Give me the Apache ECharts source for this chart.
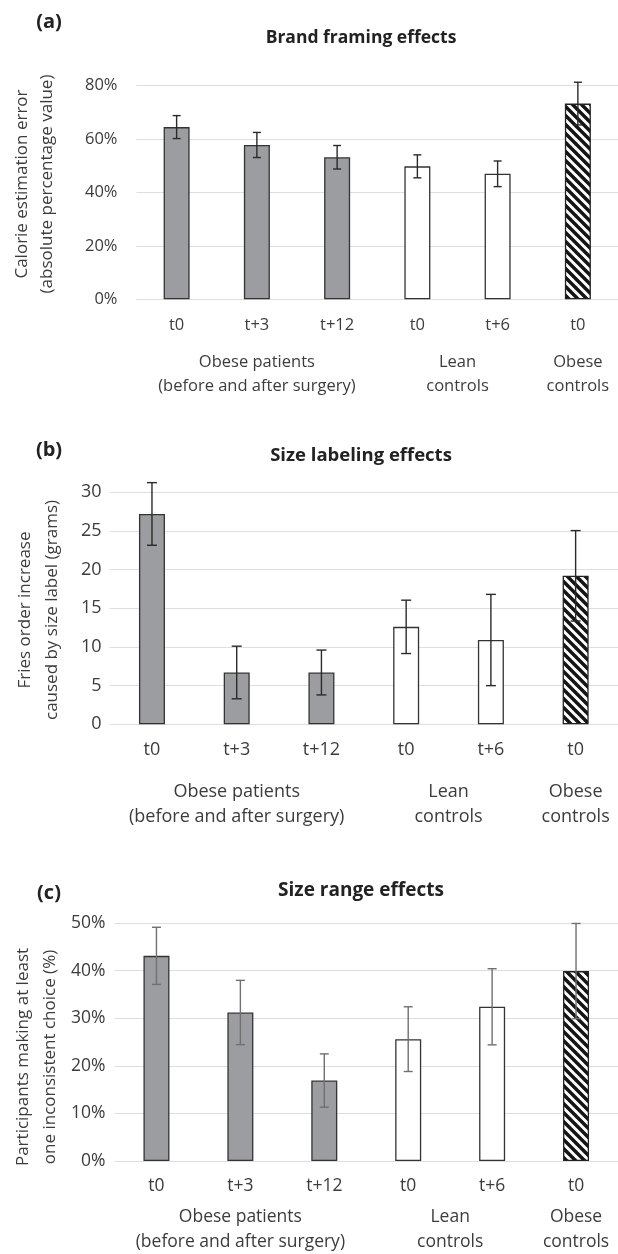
<!DOCTYPE html>
<html><head><meta charset="utf-8">
<script src="https://cdn.jsdelivr.net/npm/echarts@6/dist/echarts.min.js"></script>
<style>html,body{margin:0;padding:0;background:#fff}#c{width:618px;height:1254px}</style>
</head><body><div id="c"></div>
<script>
const categories = ['t0', 't+3', 't+12', 't0', 't+6', 't0'];
const barKinds = ['patient', 'patient', 'patient', 'lean', 'lean', 'obese'];
const groupLabels = ['Obese patients\n(before and after surgery)', 'Lean\ncontrols', 'Obese\ncontrols'];
const panelLetters = ['(a)', '(b)', '(c)'];
const panelTitles = ['Brand framing effects', 'Size labeling effects', 'Size range effects'];
const axisNames = [
  'Calorie estimation error\n(absolute percentage value)',
  'Fries order increase\ncaused by size label (grams)',
  'Participants making at least\none inconsistent choice (%)'
];
const brandValues = [64.5, 57.8, 53.2, 49.8, 47.0, 73.3];
const brandErrors = [4.3, 4.7, 4.4, 4.3, 4.8, 8.0];
const labelValues = [27.2, 6.7, 6.7, 12.6, 10.9, 19.2];
const labelErrors = [4.05, 3.4, 2.9, 3.45, 5.9, 5.85];
const rangeValues = [43.1, 31.2, 16.9, 25.6, 32.4, 39.9];
const rangeErrors = [6.0, 6.75, 5.6, 6.8, 8.0, 10.0];
const brandTicks = [0, 20, 40, 60, 80];
const labelTicks = [0, 5, 10, 15, 20, 25, 30];
const rangeTicks = [0, 10, 20, 30, 40, 50];

const FONT = '"Open Sans"';
const TXT = '#3c3c3c';

function hatch() {
  const s = 9, c = document.createElement('canvas');
  c.width = c.height = s;
  const g = c.getContext('2d');
  g.fillStyle = '#fff'; g.fillRect(0, 0, s, s);
  g.strokeStyle = '#151515'; g.lineWidth = 3.5; g.lineCap = 'square';
  g.beginPath();
  for (const o of [-s, 0, s]) { g.moveTo(o, 0); g.lineTo(o + s, s); }
  g.stroke();
  return c;
}
const hatchImg = hatch();
const kindStyle = {
  patient: { color: '#9c9da1', borderColor: '#333', borderWidth: 1.3 },
  lean: { color: '#ffffff', borderColor: '#333', borderWidth: 1.3 },
  obese: { color: { image: hatchImg, repeat: 'repeat' }, borderColor: '#222', borderWidth: 1.3 }
};

const panels = [
  { values: brandValues, errors: brandErrors, ticks: brandTicks, pct: true,
    grid: { left: 136.5, top: 85.7, width: 487, height: 213.6 },
    font: 16.5, nameFont: 17, titleFont: 17.5, errColor: '#2a2a2a', cap: 8, labelMargin: 17, yMargin: 19,
    letterY: 22, titleY: 37, nameX: 34.5, nameY: 184, nameLH: 25.3, groupY: 362.7, groupLH: 24 },
  { values: labelValues, errors: labelErrors, ticks: labelTicks, pct: false,
    grid: { left: 109.6, top: 492.3, width: 516.7, height: 232 },
    font: 18, nameFont: 17, titleFont: 18.5, errColor: '#2a2a2a', cap: 10, labelMargin: 17, yMargin: 8,
    letterY: 450, titleY: 455, nameX: 39, nameY: 610, nameLH: 26.7, groupY: 791.7, groupLH: 25 },
  { values: rangeValues, errors: rangeErrors, ticks: rangeTicks, pct: true,
    grid: { left: 114.5, top: 923, width: 509.4, height: 238 },
    font: 17.5, nameFont: 17, titleFont: 19, errColor: '#707070', cap: 9, labelMargin: 16.5, yMargin: 9,
    letterY: 893, titleY: 890, nameX: 37, nameY: 1057, nameLH: 27, groupY: 1216.7, groupLH: 25 }
];

const chart = echarts.init(document.getElementById('c'), null, { renderer: 'canvas' });
const option = { animation: false, backgroundColor: '#fff', grid: [], xAxis: [], yAxis: [], series: [] };
panels.forEach((p, k) => {
  option.grid.push(Object.assign({ containLabel: false }, p.grid));
  option.xAxis.push({
    type: 'category', gridIndex: k, data: categories,
    axisLine: { show: false }, axisTick: { show: false },
    axisLabel: { color: TXT, fontFamily: FONT, fontSize: p.font, margin: p.labelMargin }
  });
  const t = p.ticks;
  option.yAxis.push({
    type: 'value', gridIndex: k, min: t[0], max: t[t.length - 1], interval: t[1] - t[0],
    axisLine: { show: false }, axisTick: { show: false },
    splitLine: { lineStyle: { color: '#dedede', width: 1.2 } },
    axisLabel: { color: TXT, fontFamily: FONT, fontSize: p.font, margin: p.yMargin,
      formatter: p.pct ? '{value}%' : '{value}' }
  });
  option.series.push({
    type: 'bar', xAxisIndex: k, yAxisIndex: k, barWidth: 26,
    data: p.values.map((v, i) => ({ value: v, itemStyle: kindStyle[barKinds[i]] }))
  });
  const cap = p.cap, col = p.errColor;
  option.series.push({
    type: 'custom', xAxisIndex: k, yAxisIndex: k, z: 10,
    encode: { x: 0, y: [1, 2] },
    data: p.values.map((v, i) => [i, v - p.errors[i], v + p.errors[i]]),
    renderItem: (params, api) => {
      const lo = api.coord([api.value(0), api.value(1)]);
      const hi = api.coord([api.value(0), api.value(2)]);
      const x = lo[0], h = cap / 2;
      const st = { stroke: col, lineWidth: 1.4 };
      return { type: 'group', children: [
        { type: 'line', shape: { x1: x, y1: lo[1], x2: x, y2: hi[1] }, style: st },
        { type: 'line', shape: { x1: x - h, y1: hi[1], x2: x + h, y2: hi[1] }, style: st },
        { type: 'line', shape: { x1: x - h, y1: lo[1], x2: x + h, y2: lo[1] }, style: st }
      ] };
    }
  });
});
chart.setOption(option);

const graphics = [];
panels.forEach((p, k) => {
  const px = i => chart.convertToPixel({ xAxisIndex: k }, i);
  const centers = [px(1), (px(3) + px(4)) / 2, px(5)];
  groupLabels.forEach((g, j) => {
    graphics.push({ type: 'text', x: centers[j], y: p.groupY + p.groupLH / 2,
      style: { text: g, fill: TXT, font: p.font + 'px ' + FONT, align: 'center', verticalAlign: 'middle', lineHeight: p.groupLH } });
  });
  graphics.push({ type: 'text', x: 49, y: p.letterY,
    style: { text: panelLetters[k], fill: '#222', font: 'bold 20px ' + FONT, align: 'center', verticalAlign: 'middle' } });
  graphics.push({ type: 'text', x: 361, y: p.titleY + 1,
    style: { text: panelTitles[k], fill: '#222', font: 'bold ' + p.titleFont + 'px ' + FONT, align: 'center', verticalAlign: 'middle' } });
  graphics.push({ type: 'text', x: p.nameX, y: p.nameY, rotation: Math.PI / 2,
    style: { text: axisNames[k], fill: TXT, font: p.nameFont + 'px ' + FONT, align: 'center', verticalAlign: 'middle', lineHeight: p.nameLH } });
});
chart.setOption({ graphic: graphics });
</script>
</body></html>
